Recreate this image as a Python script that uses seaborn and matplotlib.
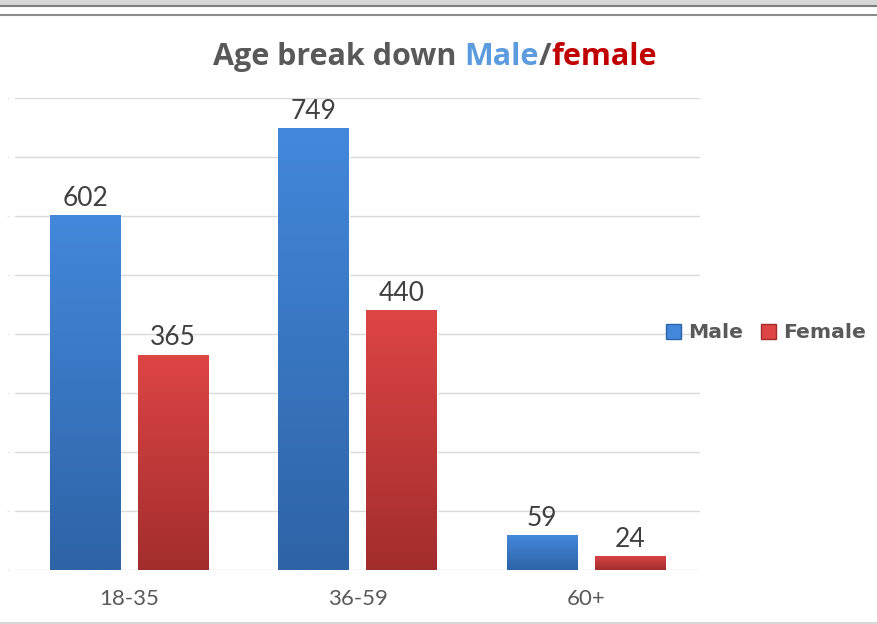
import pandas as pd
import numpy as np
import matplotlib.pyplot as plt
import seaborn as sns
from matplotlib.colors import LinearSegmentedColormap
from matplotlib.patches import Rectangle
from matplotlib.lines import Line2D

#data
age_groups = ['18-35', '36-59', '60+']
male = [602, 749, 59]
female = [365, 440, 24]

df = pd.DataFrame({
    'Age': age_groups * 2,
    'Count': male + female,
    'Sex': ['Male'] * 3 + ['Female'] * 3,
})

blue_top, blue_bot = '#4388DB', '#2E63A6'
red_top, red_bot = '#DE4545', '#A22D2D'
grey_txt = '#595959'

sns.set_style('white')
plt.rcParams['font.family'] = ['Lato', 'DejaVu Sans']

fig = plt.figure(figsize=(8.77, 6.24), dpi=100)
ax = fig.add_axes([15 / 877, 54 / 624, 685 / 877, 472 / 624])

sns.barplot(data=df, x='Age', y='Count', hue='Sex', order=age_groups,
            hue_order=['Male', 'Female'], palette=[blue_top, red_top],
            width=0.77, gap=0.2, legend=False, ax=ax, zorder=2)

#gradient fill for each bar (dark at bottom, light at top)
grad = np.linspace(0, 1, 256).reshape(-1, 1)
cmaps = {'Male': LinearSegmentedColormap.from_list('m', [blue_bot, blue_top]),
         'Female': LinearSegmentedColormap.from_list('f', [red_bot, red_top])}
for i, p in enumerate(ax.patches):
    sex = 'Male' if i < 3 else 'Female'
    x0, y0 = p.get_x(), p.get_y()
    w, h = p.get_width(), p.get_height()
    im = ax.imshow(grad, extent=[x0, x0 + w, y0, y0 + h], origin='lower',
                   aspect='auto', cmap=cmaps[sex], zorder=3)
    im.set_clip_path(p)

#value labels
for c in ax.containers:
    ax.bar_label(c, fontsize=19, color='#404040', padding=3)

ax.set_xlim(-0.5, 2.5)
ax.set_ylim(0, 800)
ax.set_yticks(range(0, 801, 100))
ax.set_yticklabels(['–'] * 9, fontsize=4, color='#BFBFBF')
ax.tick_params(axis='y', length=0, pad=4)
ax.tick_params(axis='x', length=0, pad=14, labelsize=16, labelcolor=grey_txt)
ax.yaxis.grid(True, color='#D9D9D9', linewidth=1, zorder=0)
ax.set_axisbelow(True)
ax.set_xlabel('')
ax.set_ylabel('')
for s in ax.spines.values():
    s.set_visible(False)

#legend with square markers
handles = [Rectangle((0, 0), 1, 1, facecolor=blue_top, edgecolor=blue_bot),
           Rectangle((0, 0), 1, 1, facecolor=red_top, edgecolor=red_bot)]
fig.legend(handles, ['Male', 'Female'], loc='center left',
           bbox_to_anchor=(666 / 877, 1 - 333 / 624), ncol=2, frameon=False,
           borderpad=0, borderaxespad=0,
           handlelength=0.75, handleheight=0.75, handletextpad=0.35,
           columnspacing=0.85,
           prop={'family': 'DejaVu Sans', 'weight': 'bold', 'size': 14.7},
           labelcolor=grey_txt)

#multi coloured title
pieces = [('Age break down ', grey_txt), ('Male', '#5B9BDE'),
          ('/', grey_txt), ('female', '#C00000')]
fig.canvas.draw()
r = fig.canvas.get_renderer()
texts = []
for s, col in pieces:
    t = fig.text(0, 1 - 57 / 624, s, color=col, fontsize=22, fontweight='bold',
                 family='Open Sans', va='center', ha='left')
    texts.append(t)
widths = [t.get_window_extent(r).width for t in texts]
x = 435 - sum(widths) / 2
for t, w in zip(texts, widths):
    t.set_x(x / 877)
    x += w

#frame decoration at the top and bottom
fig.add_artist(Rectangle((0, 1 - 5 / 624), 1, 5 / 624, transform=fig.transFigure,
                         facecolor='#D6D6D6', edgecolor='none'))
fig.add_artist(Line2D([0, 1], [1 - 5.5 / 624] * 2, transform=fig.transFigure,
                      color='#7F7F7F', linewidth=1.5))
fig.add_artist(Line2D([0, 1], [1 - 15 / 624] * 2, transform=fig.transFigure,
                      color='#8C8C8C', linewidth=1.5))
fig.add_artist(Line2D([0, 1], [1.5 / 624] * 2, transform=fig.transFigure,
                      color='#D0D0D0', linewidth=1.2))

fig.savefig('out.png', dpi=100)
